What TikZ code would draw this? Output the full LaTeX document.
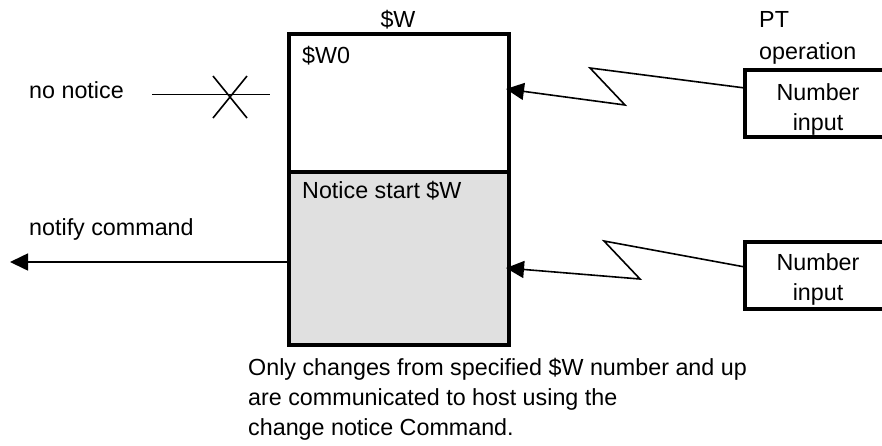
\documentclass[tikz,border=0pt]{standalone}
\usepackage{fontspec}
\setmainfont{Liberation Sans}
\usetikzlibrary{arrows.meta}
\definecolor{cellgray}{HTML}{E0E0E0}
\begin{document}
\begin{tikzpicture}[x=1pt,y=-1pt,
  thickbox/.style={draw,line width=3.6pt,inner sep=0pt,outer sep=0pt,anchor=north west},
  thin/.style={line width=1.6pt},
  arr/.style={thin,-{Triangle[length=18pt,width=17pt]}},
  lbl/.style={inner sep=0pt,font=\fontsize{23.3}{30}\selectfont},
  lw/.style={lbl,anchor=base west},
  lc/.style={lbl,anchor=base}]
\clip (0,0) rectangle (882,445);
\fill[white] (0,0) rectangle (882,445);
% main box
\node[thickbox,fill=cellgray,minimum width=220pt,minimum height=173pt] (wbot) at (289,172) {};
\node[thickbox,minimum width=220pt,minimum height=138pt] (wtop) at (289,34) {};
\node[lc] (wlab) at (398,27) {\$W};
\node[lw] (w0) at (302,63) {\$W0};
\node[lw] (nstart) at (302,198) {Notice start \$W};
% right boxes
\node[thickbox,minimum width=150pt,minimum height=67pt] (n1) at (745,70) {};
\node[thickbox,minimum width=150pt,minimum height=67pt] (n2) at (745,242) {};
\node[lw] (pt) at (759,27) {PT};
\node[lw] (op) at (759,59) {operation};
\node[lc] (n1a) at (818,100) {Number};
\node[lc] (n1b) at (818,130) {input};
\node[lc] (n2a) at (818,270) {Number};
\node[lc] (n2b) at (818,300) {input};
% zigzags
\coordinate (u0) at (745,88);
\coordinate (u1) at (590,68);
\coordinate (u2) at (625,105);
\coordinate (u3) at (506,89);
\draw[arr] (u0) -- (u1) -- (u2) -- (u3);
\coordinate (l0) at (745,267);
\coordinate (l1) at (604,241);
\coordinate (l2) at (640,279);
\coordinate (l3) at (506,268);
\draw[arr] (l0) -- (l1) -- (l2) -- (l3);
% left side
\node[lw] (nn) at (29,98) {no notice};
\coordinate (x0) at (152,94.5);
\coordinate (x1) at (270,94.5);
\draw[thin] (x0) -- (x1);
\draw[thin] (213,76) -- (247,118) (213,118) -- (247,76);
\node[lw] (nc) at (29,235) {notify command};
\coordinate (a0) at (287,262);
\coordinate (a1) at (10,262);
\draw[arr] (a0) -- (a1);
% bottom note
\node[lw] (b1) at (248,375) {Only changes from specified \$W number and up};
\node[lw] (b2) at (248,405) {are communicated to host using the};
\node[lw] (b3) at (248,435) {change notice Command.};
\end{tikzpicture}
\end{document}
